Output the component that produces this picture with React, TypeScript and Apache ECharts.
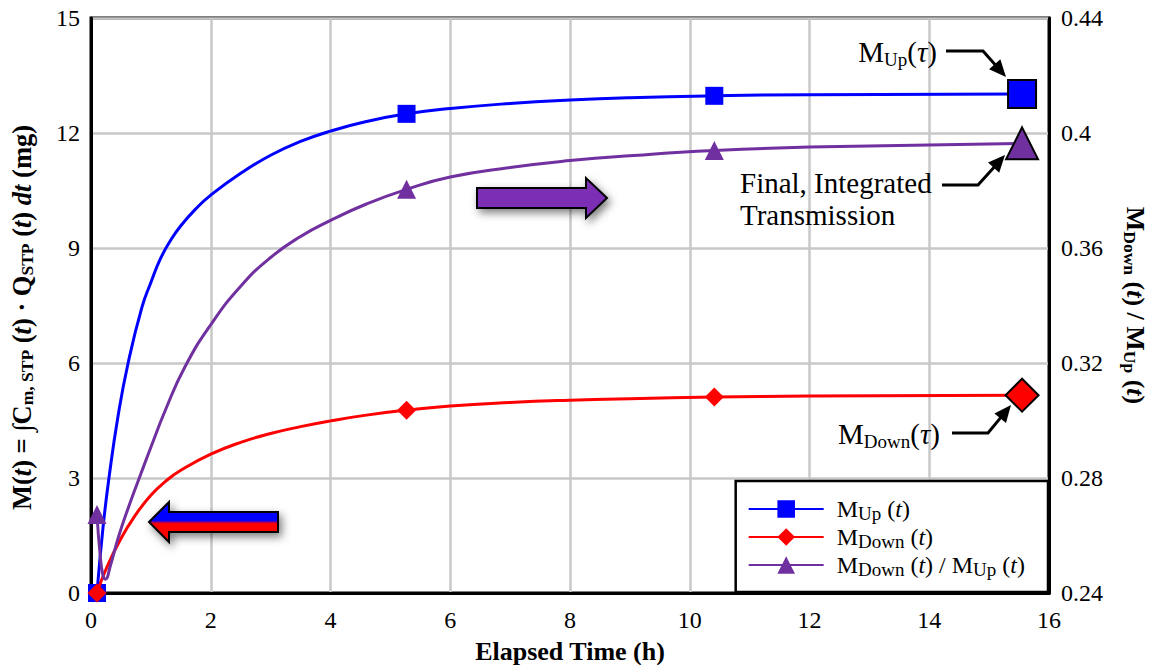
import React, { useEffect, useRef } from 'react';
import * as echarts from 'echarts';

const FONT = '"Liberation Serif", "Times New Roman", serif';

// Elapsed time (h) and values
const upT = [0.1, 0.2, 0.3, 0.45, 0.62, 0.85, 1.0, 1.16, 1.33, 1.5, 1.75, 2, 2.5, 3, 3.5, 4, 4.6, 5.27, 6, 7, 8, 9, 10.41, 12, 15.55];
const upV = [0, 1.7, 3.0, 4.6, 6.0, 7.45, 8.1, 8.72, 9.2, 9.58, 10.02, 10.38, 10.95, 11.42, 11.78, 12.05, 12.3, 12.5, 12.64, 12.77, 12.86, 12.92, 12.97, 13.0, 13.02];

const downT = [0.1, 0.25, 0.5, 0.75, 1.0, 1.25, 1.5, 2, 2.5, 3, 3.5, 4, 4.6, 5.27, 6, 7, 8, 9, 10.41, 12, 15.55];
const downV = [0, 0.62, 1.42, 2.05, 2.55, 2.92, 3.2, 3.62, 3.93, 4.16, 4.34, 4.49, 4.64, 4.77, 4.88, 4.97, 5.03, 5.07, 5.11, 5.14, 5.16];

const ratioT = [0.1, 0.15, 0.2, 0.24, 0.32, 0.46, 0.65, 0.83, 1.0, 1.25, 1.57, 2, 2.5, 3, 3.5, 4, 4.6, 5.27, 6, 7, 8, 9, 10.41, 12, 15.55];
const ratioV = [0.2673, 0.2539, 0.246, 0.2448, 0.2492, 0.2596, 0.2712, 0.2813, 0.2907, 0.304, 0.3187, 0.3333, 0.3467, 0.3567, 0.364, 0.3696, 0.3753, 0.3804, 0.3847, 0.388, 0.3904, 0.3921, 0.3939, 0.3951, 0.3964];

const markerTimes = [0.1, 5.27, 10.41, 15.55];

const xTicks = { min: 0, max: 16, interval: 2 };
const yLeftTicks = { min: 0, max: 15, interval: 3 };
const yRightTicks = { min: 0.24, max: 0.44, interval: 0.04 };

const seriesNames = ['MUp', 'MDown', 'Ratio'];
const legendLabels: Record<string, string> = {
  MUp: '{m|M}{s|Up}{m| (}{i|t}{m|)}',
  MDown: '{m|M}{s|Down}{m| (}{i|t}{m|)}',
  Ratio: '{m|M}{s|Down}{m| (}{i|t}{m|) / M}{s|Up}{m| (}{i|t}{m|)}',
};

function buildData(ts: number[], vs: number[], small: number, big: number) {
  return ts.map((t, i) => {
    const mi = markerTimes.indexOf(t);
    if (mi < 0) return { value: [t, vs[i]], symbol: 'none' };
    const last = mi === markerTimes.length - 1;
    return last
      ? { value: [t, vs[i]], symbolSize: big, itemStyle: { borderColor: '#000', borderWidth: 2 } }
      : { value: [t, vs[i]], symbolSize: small };
  });
}

function connector(pts: number[][]) {
  const n = pts.length;
  const tip = pts[n - 1];
  const prev = pts[n - 2];
  let dx = tip[0] - prev[0];
  let dy = tip[1] - prev[1];
  const len = Math.sqrt(dx * dx + dy * dy);
  dx /= len;
  dy /= len;
  const L = 17;
  const W = 7.5;
  const bx = tip[0] - dx * L;
  const by = tip[1] - dy * L;
  const px = -dy;
  const py = dx;
  const linePts = pts.slice(0, n - 1).concat([[bx + dx * 2, by + dy * 2]]);
  return [
    { type: 'polyline', shape: { points: linePts }, style: { stroke: '#000', lineWidth: 3, fill: null }, z: 100 },
    {
      type: 'polygon',
      shape: { points: [tip, [bx + px * W, by + py * W], [bx - px * W, by - py * W]] },
      style: { fill: '#000' },
      z: 100,
    },
  ];
}

export default function App() {
  const ref = useRef<HTMLDivElement>(null);
  useEffect(() => {
    if (!ref.current) return;
    const chart = echarts.init(ref.current, undefined, { renderer: 'svg' });

    const annRich = {
      m: { fontSize: 29, fontFamily: FONT, color: '#000' },
      s: { fontSize: 19, fontFamily: FONT, color: '#000', padding: [14, 0, 0, 0] },
      i: { fontSize: 29, fontFamily: FONT, fontStyle: 'italic', color: '#000' },
    };
    const axisRich = {
      b: { fontSize: 26.5, fontFamily: FONT, fontWeight: 'bold', color: '#000' },
      bi: { fontSize: 26.5, fontFamily: FONT, fontWeight: 'bold', fontStyle: 'italic', color: '#000' },
      sb: { fontSize: 17.5, fontFamily: FONT, fontWeight: 'bold', color: '#000', padding: [11, 0, 0, 0] },
    };
    const axisRichR = {
      b: { fontSize: 26, fontFamily: FONT, fontWeight: 'bold', color: '#000' },
      bi: { fontSize: 26, fontFamily: FONT, fontWeight: 'bold', fontStyle: 'italic', color: '#000' },
      sb: { fontSize: 17.5, fontFamily: FONT, fontWeight: 'bold', color: '#000', padding: [11, 0, 0, 0] },
    };

    const purple = '#7030a0';
    const smooth = 0.5;
    const lw = 3;

    const option: any = {
      animation: false,
      grid: {
        left: 91,
        right: 100,
        top: 18,
        bottom: 72,
        show: true,
        borderColor: '#000',
        borderWidth: 3,
        backgroundColor: 'transparent',
        containLabel: false,
        outerBoundsMode: 'none',
      },
      legend: {
        data: seriesNames,
        orient: 'vertical',
        right: 101,
        bottom: 73,
        backgroundColor: '#fff',
        borderColor: '#000',
        borderWidth: 2.5,
        borderRadius: 0,
        padding: [16, 23, 13, 12],
        itemWidth: 75,
        itemHeight: 22,
        itemGap: 2,
        formatter: (name: string) => legendLabels[name],
        textStyle: {
          padding: [0, 0, 0, 8],
          rich: {
            m: { fontSize: 24, fontFamily: FONT, color: '#000' },
            s: { fontSize: 19, fontFamily: FONT, color: '#000', padding: [9, 0, 0, 0] },
            i: { fontSize: 24, fontFamily: FONT, fontStyle: 'italic', color: '#000' },
          },
        },
        z: 50,
      },
      xAxis: {
        type: 'value',
        ...xTicks,
        name: 'Elapsed Time (h)',
        nameLocation: 'middle',
        nameGap: 45,
        nameTextStyle: { fontSize: 26, fontWeight: 'bold', fontFamily: FONT, color: '#000' },
        axisLine: { show: true, onZero: false, lineStyle: { color: '#000', width: 3 } },
        axisTick: { show: false },
        axisLabel: { fontSize: 24, fontFamily: FONT, color: '#000', margin: 15 },
        splitLine: { show: true, lineStyle: { color: '#c8c8c8', width: 2.5 } },
      },
      yAxis: [
        {
          type: 'value',
          ...yLeftTicks,
          position: 'left',
          name: '{b|M(}{bi|t}{b|) = ∫C}{sb|m, STP}{b| (}{bi|t}{b|) · Q}{sb|STP}{b| (}{bi|t}{b|) }{bi|dt}{b| (mg)}',
          nameLocation: 'middle',
          nameRotate: 90,
          nameGap: 55,
          nameTextStyle: { rich: axisRich, padding: [0, 24, 0, 0] },
          axisLine: { show: true, onZero: false, lineStyle: { color: '#000', width: 3 } },
          axisTick: { show: false },
          axisLabel: { fontSize: 24, fontFamily: FONT, color: '#000', margin: 11 },
          splitLine: { show: true, lineStyle: { color: '#c8c8c8', width: 2.5 } },
        },
        {
          type: 'value',
          ...yRightTicks,
          position: 'right',
          name: '{b|M}{sb|Down}{b| (}{bi|t}{b|) / M}{sb|Up}{b| (}{bi|t}{b|)}',
          nameLocation: 'middle',
          nameRotate: -90,
          nameGap: 72,
          nameTextStyle: { rich: axisRichR },
          axisLine: { show: true, onZero: false, lineStyle: { color: '#000', width: 3 } },
          axisTick: { show: false },
          axisLabel: {
            fontSize: 24,
            fontFamily: FONT,
            color: '#000',
            margin: 12,
            formatter: (v: number) => String(parseFloat(v.toFixed(2))),
          },
          splitLine: { show: false },
        },
      ],
      series: [
        {
          name: 'MUp',
          type: 'line',
          yAxisIndex: 0,
          smooth,
          symbol: 'rect',
          showAllSymbol: true,
          color: '#0000ff',
          lineStyle: { color: '#0000ff', width: lw },
          itemStyle: { color: '#0000ff' },
          data: buildData(upT, upV, 18, 28),
          z: 3,
        },
        {
          name: 'MDown',
          type: 'line',
          yAxisIndex: 0,
          smooth,
          symbol: 'diamond',
          showAllSymbol: true,
          color: '#ff0000',
          lineStyle: { color: '#ff0000', width: lw },
          itemStyle: { color: '#ff0000' },
          data: buildData(downT, downV, 19, 33),
          z: 4,
        },
        {
          name: 'Ratio',
          type: 'line',
          yAxisIndex: 1,
          smooth,
          symbol: 'triangle',
          showAllSymbol: true,
          color: purple,
          lineStyle: { color: purple, width: lw },
          itemStyle: { color: purple },
          data: buildData(ratioT, ratioV, 19, 32),
          z: 5,
        },
      ],
      graphic: [
        {
          type: 'text',
          z: 100,
          style: {
            text: '{m|M}{s|Up}{m|(}{i|τ}{m|)}',
            rich: annRich,
            x: 937,
            y: 52,
            align: 'right',
            verticalAlign: 'middle',
          },
        },
        {
          type: 'text',
          z: 100,
          style: {
            text: 'Final, Integrated\nTransmission',
            x: 740,
            y: 199,
            font: '29px ' + FONT,
            lineHeight: 32,
            fill: '#000',
            align: 'left',
            verticalAlign: 'middle',
          },
        },
        {
          type: 'text',
          z: 100,
          style: {
            text: '{m|M}{s|Down}{m|(}{i|τ}{m|)}',
            rich: annRich,
            x: 940,
            y: 434,
            align: 'right',
            verticalAlign: 'middle',
          },
        },
        ...connector([[946, 51], [983, 51], [1006, 77]]),
        ...connector([[942, 185], [978, 185], [1005, 155]]),
        ...connector([[952, 433], [988, 433], [1011, 405]]),
        {
          type: 'polygon',
          z: 90,
          shape: {
            points: [[477, 188], [586, 188], [586, 178], [607, 198], [586, 218], [586, 208], [477, 208]],
          },
          style: {
            fill: '#7b2fb5',
            stroke: '#000',
            lineWidth: 2,
            shadowBlur: 8,
            shadowColor: 'rgba(0,0,0,0.5)',
            shadowOffsetX: 3,
            shadowOffsetY: 4,
          },
        },
        {
          type: 'polygon',
          z: 90,
          shape: {
            points: [[149, 522], [169, 502], [169, 512], [278, 512], [278, 532], [169, 532], [169, 542]],
          },
          style: {
            fill: new echarts.graphic.LinearGradient(0, 0, 0, 1, [
              { offset: 0, color: '#0000ff' },
              { offset: 0.46, color: '#0000ff' },
              { offset: 0.54, color: '#ff0000' },
              { offset: 1, color: '#ff0000' },
            ]),
            stroke: '#000',
            lineWidth: 2,
            shadowBlur: 8,
            shadowColor: 'rgba(0,0,0,0.5)',
            shadowOffsetX: 3,
            shadowOffsetY: 4,
          },
        },
      ],
    };
    chart.setOption(option);
    return () => chart.dispose();
  }, []);
  return (
    <div
      ref={ref}
      style={{ position: 'fixed', left: 0, top: 0, width: 1149, height: 665, background: '#fff' }}
    />
  );
}
